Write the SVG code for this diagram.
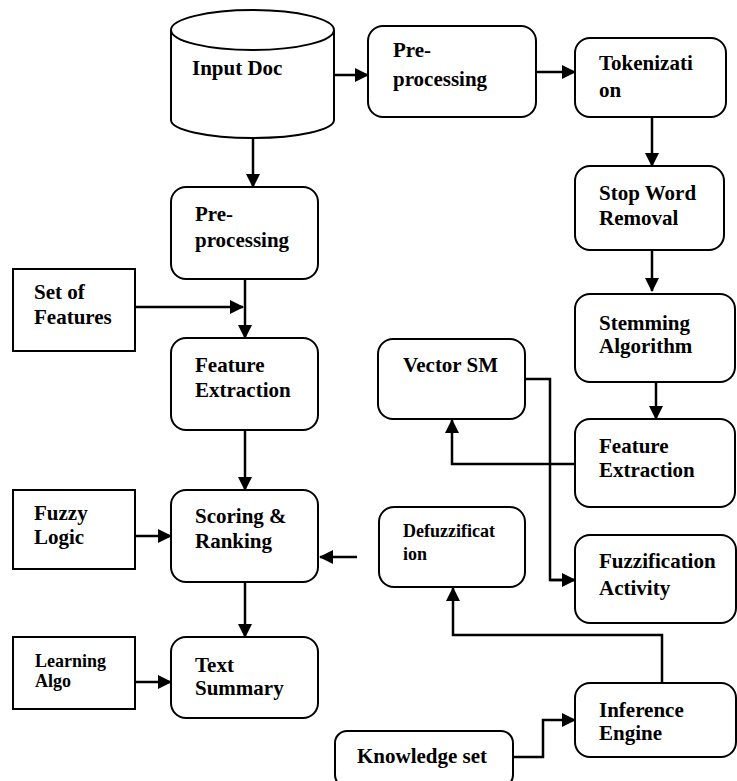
<svg xmlns="http://www.w3.org/2000/svg" width="737" height="781" viewBox="0 0 737 781">
<defs>
<marker id="ah" markerUnits="userSpaceOnUse" markerWidth="14" markerHeight="14" viewBox="0 0 14 14" refX="13" refY="7" orient="auto">
<path d="M0,0 L14,7 L0,14 z" fill="#000"/>
</marker>
<style>
.box{fill:#fff;stroke:#000;stroke-width:2}
.t{font-family:"Liberation Serif","Times New Roman",serif;font-weight:bold;font-size:21px;fill:#000}
.s{font-size:18px}
.c{fill:none;stroke:#000;stroke-width:2.5}
.a{marker-end:url(#ah)}
</style>
</defs>
<rect width="737" height="781" fill="#fff"/>
<g id="connectors">
<path class="c a" d="M334,75 H368"/>
<path class="c a" d="M536,72 H575"/>
<path class="c a" d="M652,117 V166"/>
<path class="c a" d="M652,250 V291"/>
<path class="c a" d="M656,382 V419"/>
<path class="c a" d="M575,464 H452 V420"/>
<path class="c" d="M525,379 H550 V580 H575"/>
<path class="c a" d="M550,580 H575"/>
<path class="c a" d="M662,683 V635 H453 V588"/>
<path class="c a" d="M513,757 H543 V720 H575"/>
<path class="c a" d="M357,557 H320"/>
<path class="c a" d="M253,138 V187"/>
<path class="c a" d="M135,307 H243"/>
<path class="c a" d="M245,279 V338"/>
<path class="c a" d="M245,430 V490"/>
<path class="c a" d="M135,536 H171"/>
<path class="c a" d="M245,582 V637"/>
<path class="c a" d="M135,682 H171"/>
</g>
<g id="input-doc">
<path class="box" d="M171,30 V120 A81.5,18 0 0 0 334,120 V30"/>
<ellipse class="box" cx="252.5" cy="30" rx="81.5" ry="20"/>
<text class="t" x="192" y="75">Input Doc</text>
</g>
<g id="preprocessing-top">
<rect class="box" x="368" y="26" width="168" height="91" rx="15"/>
<text class="t" x="393" y="57">Pre-<tspan x="393" y="86">processing</tspan></text>
</g>
<g id="tokenization">
<rect class="box" x="575" y="38" width="151" height="79" rx="15"/>
<text class="t" x="599" y="70">Tokenizati<tspan x="599" y="97">on</tspan></text>
</g>
<g id="stop-word">
<rect class="box" x="575" y="166" width="149" height="84" rx="15"/>
<text class="t" x="599" y="200">Stop Word<tspan x="599" y="225">Removal</tspan></text>
</g>
<g id="stemming">
<rect class="box" x="575" y="294" width="160" height="88" rx="15"/>
<text class="t" x="599" y="330">Stemming<tspan x="599" y="353">Algorithm</tspan></text>
</g>
<g id="vector-sm">
<rect class="box" x="378" y="339" width="147" height="80" rx="15"/>
<text class="t" x="403" y="372">Vector SM</text>
</g>
<g id="feature-extraction-right">
<rect class="box" x="575" y="419" width="160" height="88" rx="15"/>
<text class="t" x="599" y="453">Feature<tspan x="599" y="477">Extraction</tspan></text>
</g>
<g id="defuzzification">
<rect class="box" x="379" y="507" width="146" height="80" rx="15"/>
<text class="t s" x="403" y="537">Defuzzificat<tspan x="403" y="560">ion</tspan></text>
</g>
<g id="fuzzification">
<rect class="box" x="575" y="535" width="161" height="88" rx="15"/>
<text class="t" x="599" y="568">Fuzzification<tspan x="599" y="595">Activity</tspan></text>
</g>
<g id="inference-engine">
<rect class="box" x="575" y="683" width="161" height="74" rx="15"/>
<text class="t" x="599" y="717">Inference<tspan x="599" y="740">Engine</tspan></text>
</g>
<g id="knowledge-set">
<rect class="box" x="335" y="731" width="178" height="56" rx="12"/>
<text class="t" x="357" y="763">Knowledge set</text>
</g>
<g id="preprocessing-left">
<rect class="box" x="171" y="187" width="147" height="92" rx="15"/>
<text class="t" x="195" y="221">Pre-<tspan x="195" y="247">processing</tspan></text>
</g>
<g id="set-of-features">
<rect class="box" x="13" y="269" width="122" height="82"/>
<text class="t" x="34" y="299">Set of<tspan x="34" y="324">Features</tspan></text>
</g>
<g id="feature-extraction-left">
<rect class="box" x="171" y="338" width="147" height="92" rx="15"/>
<text class="t" x="195" y="372">Feature<tspan x="195" y="397">Extraction</tspan></text>
</g>
<g id="fuzzy-logic">
<rect class="box" x="13" y="490" width="122" height="79"/>
<text class="t" x="34" y="520">Fuzzy<tspan x="34" y="544">Logic</tspan></text>
</g>
<g id="scoring-ranking">
<rect class="box" x="171" y="490" width="147" height="92" rx="15"/>
<text class="t" x="195" y="523">Scoring &amp;<tspan x="195" y="548">Ranking</tspan></text>
</g>
<g id="learning-algo">
<rect class="box" x="13" y="637" width="122" height="72"/>
<text class="t s" x="35" y="667">Learning<tspan x="35" y="687">Algo</tspan></text>
</g>
<g id="text-summary">
<rect class="box" x="171" y="637" width="147" height="81" rx="15"/>
<text class="t" x="195" y="672">Text<tspan x="195" y="695">Summary</tspan></text>
</g>
</svg>
